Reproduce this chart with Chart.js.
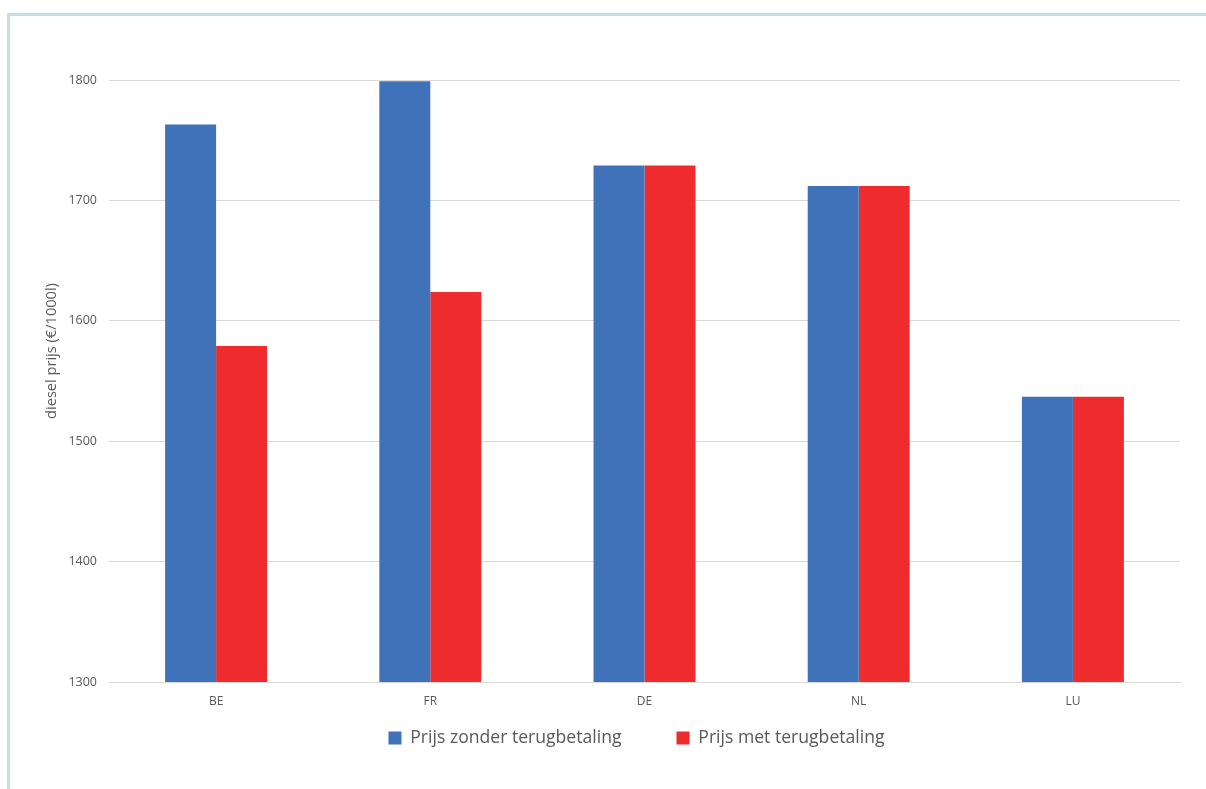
<!DOCTYPE html>
<html>
<head>
<meta charset="utf-8">
<script src="https://cdn.jsdelivr.net/npm/chart.js@4.4.1/dist/chart.umd.min.js"></script>
<style>
  html, body { margin: 0; padding: 0; background: #fff; }
  #wrap { position: relative; width: 1206px; height: 789px; overflow: hidden; }
  #frame { position: absolute; left: 7px; top: 13px; right: -10px; bottom: -10px;
           border-top: 3px solid #c3e0ea; border-left: 3px solid #c3e0ea; }
  #c { position: absolute; left: 0; top: 0; }
</style>
</head>
<body>
<div id="wrap">
  <div id="frame"></div>
  <canvas id="c" width="1206" height="789"></canvas>
</div>
<script>
// Diesel price per 1000 litres, with and without refund
const countries = ["BE", "FR", "DE", "NL", "LU"];
const priceWithoutRefund = [1763, 1799, 1729, 1712, 1537];
const priceWithRefund = [1579, 1624, 1729, 1712, 1537];
const seriesNames = ["Prijs zonder terugbetaling", "Prijs met terugbetaling"];
const axisTitle = "diesel prijs (€/1000l)";

const font = "'Open Sans', 'Liberation Sans', sans-serif";
const textColor = "#595959";
const legendFontSize = 17.6;
const legendPadding = 55;

// Vertical axis title, set a little above the middle of the value axis
const axisTitlePlugin = {
  id: "axisTitle",
  afterDraw(chart) {
    const { ctx, chartArea } = chart;
    const cy = (chartArea.top + chartArea.bottom) / 2 - 30;
    ctx.save();
    ctx.translate(chartArea.left - 57, cy);
    ctx.rotate(-Math.PI / 2);
    ctx.font = `14.6px ${font}`;
    ctx.fillStyle = textColor;
    ctx.textAlign = "center";
    ctx.textBaseline = "middle";
    ctx.fillText(axisTitle, 0, 0);
    ctx.restore();
  }
};

// Legend sits close under the category labels, centred under the bars
const legendPlacePlugin = {
  id: "legendPlace",
  afterLayout(chart) {
    const lg = chart.legend;
    if (!lg) return;
    const top = chart.chartArea.bottom + 56 - legendPadding - legendFontSize / 2;
    const dx = 33;
    lg.top = top;
    lg.height = 110;
    lg.bottom = top + lg.height;
    lg.left += dx; lg.right += dx;
  }
};

new Chart(document.getElementById("c"), {
  type: "bar",
  data: {
    labels: countries,
    datasets: [
      { label: seriesNames[0], data: priceWithoutRefund, backgroundColor: "#3f72b9" },
      { label: seriesNames[1], data: priceWithRefund, backgroundColor: "#ee2c2e" }
    ]
  },
  plugins: [axisTitlePlugin, legendPlacePlugin],
  options: {
    responsive: false,
    animation: false,
    devicePixelRatio: 1,
    layout: { padding: { left: 27, right: 26, top: 80, bottom: 17 } },
    datasets: { bar: { barPercentage: 1, categoryPercentage: 0.476 } },
    plugins: {
      tooltip: { enabled: false },
      legend: {
        position: "bottom",
        maxHeight: 60,
        labels: {
          font: { family: font, size: legendFontSize },
          color: textColor,
          boxWidth: 13,
          boxHeight: 13,
          padding: legendPadding
        }
      }
    },
    scales: {
      x: {
        grid: { display: false, drawTicks: false },
        border: { color: "#d9d9d9", width: 1 },
        ticks: { font: { family: font, size: 12 }, color: textColor, padding: 12 },
        afterFit: s => { s.height = 30; }
      },
      y: {
        min: 1300, max: 1800,
        grid: { color: "#d9d9d9", lineWidth: 1, drawTicks: false },
        border: { display: false },
        ticks: {
          stepSize: 100,
          font: { family: font, size: 12.5 },
          color: textColor,
          padding: 12,
          callback: v => String(v)
        },
        afterFit: s => { s.width = 82; }
      }
    }
  }
});
</script>
</body>
</html>
